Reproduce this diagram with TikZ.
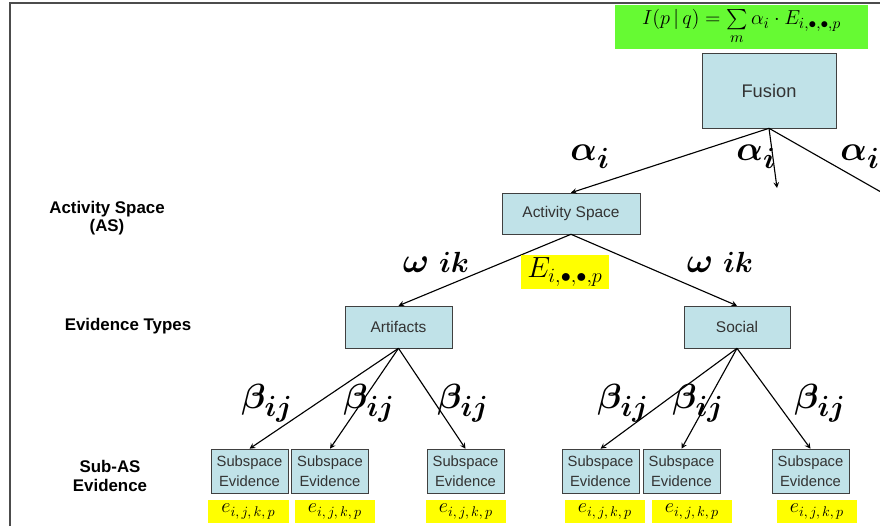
\documentclass[tikz,border=0pt]{standalone}
\usepackage{amsmath}
\usepackage{bm}
\usepackage{fontspec}
\setmainfont{Liberation Sans}
\usetikzlibrary{arrows}
\definecolor{boxblue}{RGB}{192,226,232}
\definecolor{eqgreen}{RGB}{102,250,51}
\definecolor{evyellow}{RGB}{255,255,0}
\tikzset{
  box/.style={draw=black!75, fill=boxblue, inner sep=1pt, align=center,
    font=\fontsize{11}{13}\selectfont, text=black!80},
  subbox/.style={box, minimum width=1.925cm, minimum height=1.1cm,
    font=\fontsize{10.5}{14.5}\selectfont},
  ybox/.style={fill=evyellow, inner sep=0pt, minimum width=2cm, minimum height=0.575cm,
    font=\fontsize{14}{14}\selectfont},
  level/.style={font=\fontsize{12}{13}\selectfont\bfseries, align=center},
  wt/.style={font=\fontsize{30}{30}\selectfont},
  link/.style={->, >=stealth, thick}
}
\begin{document}
\begin{tikzpicture}[x=0.025cm, y=-0.025cm]
  \useasboundingbox (0,0) rectangle (880,526);
  \clip (0,0) rectangle (880,526);
  \draw[line width=1.5pt, black!70] (10,526) -- (10,3) -- (880,3);
  % top of the tree
  \node[fill=eqgreen, minimum width=6.325cm, minimum height=1.1cm, inner sep=0pt,
    font=\fontsize{15}{15}\selectfont] (eq) at (741.5,27)
    {$I(p\,|\,q)=\sum\limits_{m}\alpha_i\cdot E_{i,\bullet,\bullet,p}$};
  \node[box, minimum width=3.35cm, minimum height=1.875cm,
    font=\fontsize{13}{15}\selectfont] (fusion) at (769,90.5) {Fusion};
  \node[box, minimum width=3.45cm, minimum height=1.025cm] (as) at (571,213.5) {Activity Space};
  \coordinate (free2) at (777,188);
  \coordinate (free3) at (895,200);
  % evidence types
  \node[box, minimum width=2.675cm, minimum height=1.05cm] (art) at (398.5,327) {Artifacts};
  \node[box, minimum width=2.65cm, minimum height=1.05cm] (soc) at (737,327) {Social};
  % sub-AS evidence
  \node[subbox] (s1) at (249.5,471) {Subspace\\Evidence};
  \node[subbox] (s2) at (330,471) {Subspace\\Evidence};
  \node[subbox] (s3) at (465.5,471) {Subspace\\Evidence};
  \node[subbox] (s4) at (600.5,471) {Subspace\\Evidence};
  \node[subbox] (s5) at (681.5,471) {Subspace\\Evidence};
  \node[subbox] (s6) at (810.5,471) {Subspace\\Evidence};
  \node[ybox] (e1) at (248.5,511.5) {$e_{i,\,j,\,k,\,p}$};
  \node[ybox] (e2) at (335,511.5) {$e_{i,\,j,\,k,\,p}$};
  \node[ybox] (e3) at (466,511.5) {$e_{i,\,j,\,k,\,p}$};
  \node[ybox] (e4) at (605,511.5) {$e_{i,\,j,\,k,\,p}$};
  \node[ybox] (e5) at (692,511.5) {$e_{i,\,j,\,k,\,p}$};
  \node[ybox] (e6) at (817,511.5) {$e_{i,\,j,\,k,\,p}$};
  % level names
  \node[level] (lvas) at (107,218) {Activity Space\\(AS)};
  \node[level] (lvtypes) at (128,326) {Evidence Types};
  \node[level] (lvsub) at (110,476) {Sub-AS\\Evidence};
  % links
  \draw[link] (fusion.south) -- (as.north);
  \draw[link] (fusion.south) -- (free2);
  \draw[link] (fusion.south) -- (free3);
  \draw[link] (as.south) -- (art.north);
  \draw[link] (as.south) -- (soc.north);
  \foreach \s in {s1,s2,s3} \draw[link] (art.south) -- (\s.north);
  \foreach \s in {s4,s5,s6} \draw[link] (soc.south) -- (\s.north);
  \node[fill=evyellow, minimum width=2.2cm, minimum height=0.85cm, inner sep=0pt,
    font=\fontsize{20}{20}\selectfont] (ev) at (565,272) {$E_{i,\bullet,\bullet,p}$};
  % weights
  \node[wt] (a1) at (590,157) {$\bm{\alpha_i}$};
  \node[wt] (a2) at (756,157) {$\bm{\alpha_i}$};
  \node[wt] (a3) at (860,157) {$\bm{\alpha_i}$};
  \node[wt] (w1) at (436,262) {$\bm{\omega}\;{\scriptstyle\bm{ik}}$};
  \node[wt] (w2) at (720,262) {$\bm{\omega}\;{\scriptstyle\bm{ik}}$};
  \node[wt] (b1) at (267,403) {$\bm{\beta_{ij}}$};
  \node[wt] (b2) at (369,403) {$\bm{\beta_{ij}}$};
  \node[wt] (b3) at (463,403) {$\bm{\beta_{ij}}$};
  \node[wt] (b4) at (623,403) {$\bm{\beta_{ij}}$};
  \node[wt] (b5) at (698,403) {$\bm{\beta_{ij}}$};
  \node[wt] (b6) at (820,403) {$\bm{\beta_{ij}}$};
\end{tikzpicture}
\end{document}
